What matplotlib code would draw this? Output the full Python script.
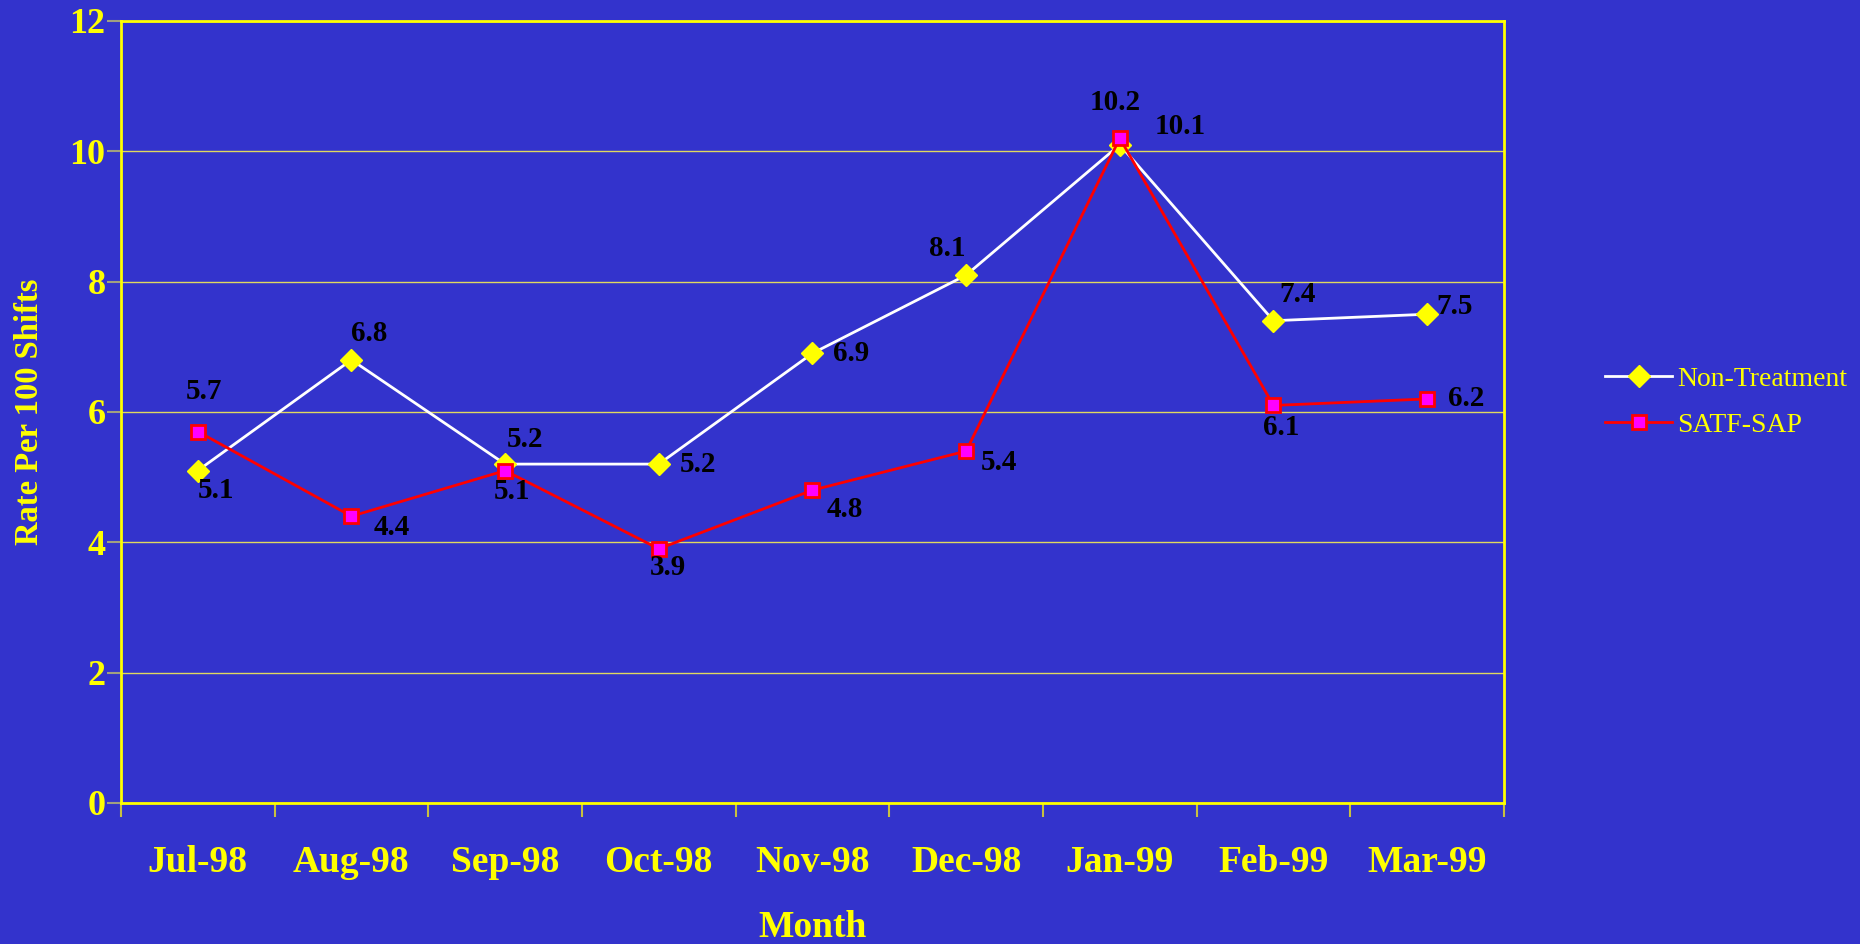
import matplotlib
matplotlib.use("Agg")
import matplotlib.pyplot as plt

months = ["Jul-98", "Aug-98", "Sep-98", "Oct-98", "Nov-98", "Dec-98", "Jan-99", "Feb-99", "Mar-99"]
non_treatment = [5.1, 6.8, 5.2, 5.2, 6.9, 8.1, 10.1, 7.4, 7.5]
satf_sap = [5.7, 4.4, 5.1, 3.9, 4.8, 5.4, 10.2, 6.1, 6.2]
y_ticks = [0, 2, 4, 6, 8, 10, 12]

# label offsets in pixels (styling)
non_off = [(18, -20), (18, 26), (20, 25), (39, 0), (39, 0), (-19, 27), (60, 18), (24, 26), (27, 8)]
satf_off = [(6, 40), (40, -11), (7, -21), (9, -19), (32, -19), (33, -11), (-5, 36), (8, -22), (39, 0)]

BG = "#3333cc"
YEL = "#ffff00"
plt.rcParams['font.family'] = ['Liberation Serif', 'DejaVu Serif']

fig = plt.figure(figsize=(18.6, 9.44), dpi=100, facecolor=BG)
ax = fig.add_axes([0.065, 0.1494, 0.7436, 0.8284], facecolor=BG)

x = list(range(len(months)))
ax.plot(x, non_treatment, color="white", lw=2, marker="D", ms=11, mfc=YEL, mec=YEL,
        label="Non-Treatment", zorder=3)
ax.plot(x, satf_sap, color="#ff0000", lw=2, marker="s", ms=10, mfc="#ff00ff", mec="#ff0000",
        mew=2, label="SATF-SAP", zorder=4)

for xi, v, o in zip(x, non_treatment, non_off):
    ax.annotate(f"{v}", (xi, v), xytext=o, textcoords="offset pixels", ha="center", va="center",
                fontsize=21, fontweight="bold", color="black", zorder=5)
for xi, v, o in zip(x, satf_sap, satf_off):
    ax.annotate(f"{v}", (xi, v), xytext=o, textcoords="offset pixels", ha="center", va="center",
                fontsize=21, fontweight="bold", color="black", zorder=5)

ax.set_xlim(-0.5, len(months) - 0.5)
ax.set_ylim(0, 12)
ax.set_yticks(y_ticks)
ax.set_yticklabels([str(t) for t in y_ticks], fontsize=26, fontweight="bold", color=YEL)
ax.set_xticks(x)
ax.set_xticklabels(months, fontsize=27, fontweight="bold", color=YEL)
ax.tick_params(axis="x", length=0, pad=30)
ax.set_xticks([i - 0.5 for i in range(len(months) + 1)], minor=True)
ax.tick_params(axis="x", which="minor", length=10, color="#c8c040", width=1.5)
ax.tick_params(axis="y", length=10, color="#a0a080", width=1.5, pad=1)
ax.yaxis.grid(True, color="#e0d860", lw=1)
ax.set_axisbelow(True)
for s in ax.spines.values():
    s.set_color(YEL)
    s.set_linewidth(2)

ax.set_xlabel("Month", fontsize=27, fontweight="bold", color=YEL, labelpad=22)
ax.set_ylabel("Rate Per 100 Shifts", fontsize=23.5, fontweight="bold", color=YEL, labelpad=18)

leg = fig.legend(loc="center left", bbox_to_anchor=(0.863, 0.574), frameon=False,
                 prop={"size": 20}, handlelength=2.4, handletextpad=0.2,
                 labelspacing=0.75, borderpad=0, borderaxespad=0)
for t in leg.get_texts():
    t.set_color(YEL)

fig.savefig("out.png", dpi=100, facecolor=BG)
